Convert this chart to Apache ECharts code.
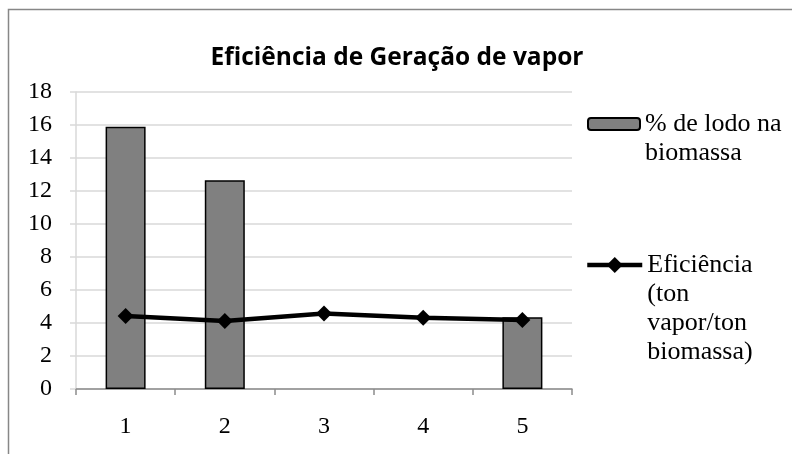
<!DOCTYPE html>
<html lang="pt-BR" style="height: 100%">
<head>
  <meta charset="utf-8">
</head>
<body style="height: 100%; margin: 0; background: #fff">
  <div id="container" style="width: 792px; height: 454px"></div>
  <script type="text/javascript" src="https://cdn.jsdelivr.net/npm/echarts@6/dist/echarts.min.js"></script>
  <script type="text/javascript">
    var categorias = ['1', '2', '3', '4', '5'];
    var lodo = [15.9, 12.65, null, null, 4.35];
    var eficiencia = [4.42, 4.12, 4.58, 4.32, 4.18];
    var nomeLodo = '% de lodo na\nbiomassa';
    var nomeEfic = 'Eficiência\n(ton\nvapor/ton\nbiomassa)';

    var myChart = echarts.init(document.getElementById('container'), null, { renderer: 'canvas' });
    var serif = '"Liberation Serif", "Times New Roman", serif';
    var lh = 29;

    // linhas vazias antes do nome: a primeira linha real fica centrada no ícone
    function alinharTopo(name) {
      var n = name.split('\n').length;
      return new Array(n).join('\n') + name;
    }

    var legendText = {
      fontFamily: serif,
      fontSize: 26,
      color: '#000',
      lineHeight: lh
    };

    var option = {
      animation: false,
      backgroundColor: '#fff',
      title: {
        text: 'Eficiência de Geração de vapor',
        left: 392,
        textAlign: 'center',
        top: 41,
        textStyle: {
          fontFamily: '"Open Sans", sans-serif',
          fontWeight: 'bold',
          fontSize: 24.5,
          color: '#000'
        }
      },
      graphic: [{
        type: 'rect',
        shape: { x: 8.5, y: 9.5, width: 800, height: 500 },
        style: { fill: 'none', stroke: '#878787', lineWidth: 1.5 },
        silent: true
      }],
      legend: [{
        data: [nomeLodo],
        left: 587,
        top: 124 - 3 * lh / 2,
        padding: 0,
        itemWidth: 52,
        itemHeight: 12,
        formatter: alinharTopo,
        textStyle: legendText
      }, {
        data: [nomeEfic],
        left: 585,
        top: 265 - 7 * lh / 2,
        padding: 0,
        itemWidth: 55,
        itemHeight: 20,
        lineStyle: { width: 4.5 },
        formatter: alinharTopo,
        textStyle: legendText
      }],
      grid: {
        left: 76,
        right: 220,
        top: 92,
        bottom: 65
      },
      xAxis: {
        type: 'category',
        data: categorias,
        axisLine: { lineStyle: { color: '#8c8c8c', width: 1.5 } },
        axisTick: { show: true, length: 6, lineStyle: { color: '#8c8c8c', width: 1.5 } },
        axisLabel: {
          margin: 26,
          fontFamily: serif,
          fontSize: 24,
          color: '#000'
        }
      },
      yAxis: {
        type: 'value',
        min: 0,
        max: 18,
        interval: 2,
        axisLine: { show: true, lineStyle: { color: '#d9d9d9', width: 1.5 } },
        axisTick: { show: true, length: 6, lineStyle: { color: '#d9d9d9', width: 1.5 } },
        splitLine: { lineStyle: { color: '#d9d9d9', width: 1.5 } },
        axisLabel: {
          margin: 24,
          fontFamily: serif,
          fontSize: 24,
          color: '#000'
        }
      },
      series: [{
        name: nomeLodo,
        type: 'bar',
        data: lodo,
        barWidth: 40,
        itemStyle: {
          color: '#808080',
          borderColor: '#000',
          borderWidth: 1.5
        }
      }, {
        name: nomeEfic,
        type: 'line',
        data: eficiencia,
        symbol: 'diamond',
        symbolSize: 16,
        lineStyle: { color: '#000', width: 4.5 },
        itemStyle: { color: '#000' },
        z: 3
      }]
    };

    myChart.setOption(option);
    window.addEventListener('resize', myChart.resize);
  </script>
</body>
</html>
